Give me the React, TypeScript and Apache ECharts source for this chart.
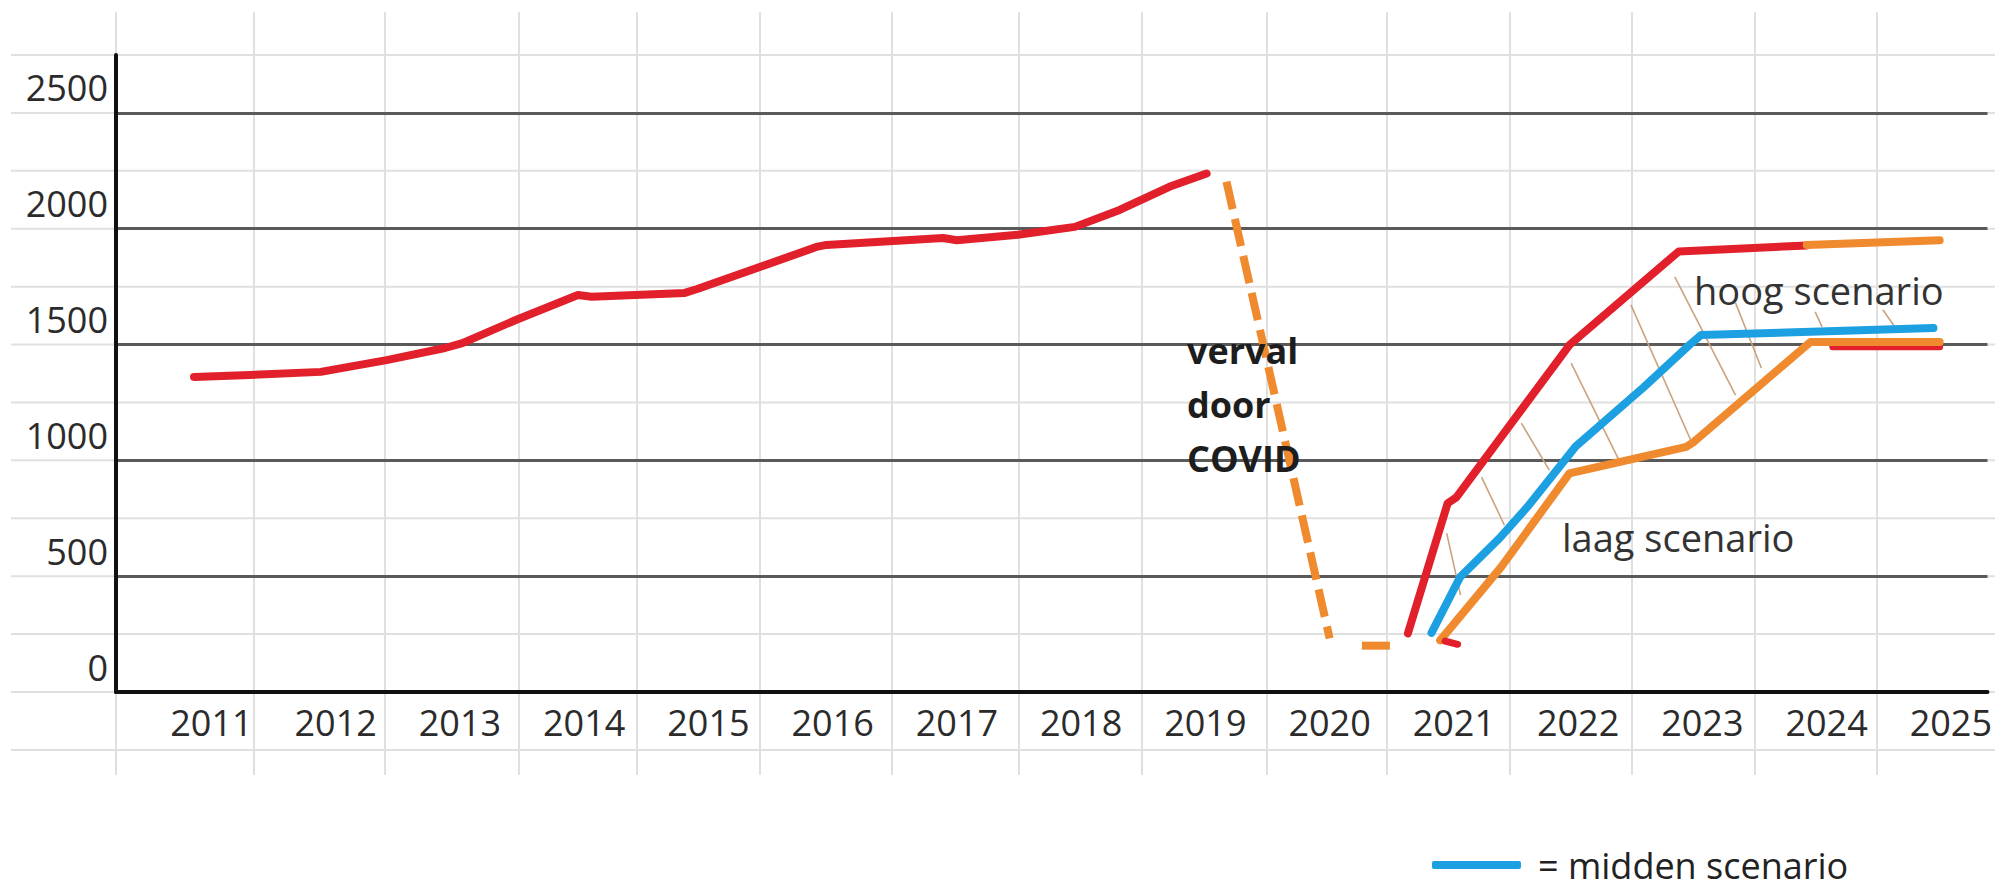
import React, { useEffect, useRef } from "react";
import * as echarts from "echarts";

// ---------- data ----------
const years = [2011, 2012, 2013, 2014, 2015, 2016, 2017, 2018, 2019, 2020, 2021, 2022, 2023, 2024, 2025];
const yTicks = [0, 500, 1000, 1500, 2000, 2500];

const historical = [
  [2010.86, 1360], [2011.31, 1369], [2011.88, 1382], [2012.41, 1433], [2012.88, 1485],
  [2013.02, 1506], [2013.45, 1606], [2013.95, 1714], [2014.06, 1706], [2014.81, 1723],
  [2014.91, 1740], [2015.88, 1923], [2015.95, 1930], [2016.89, 1960], [2017.0, 1950],
  [2017.49, 1974], [2017.95, 2008], [2018.31, 2081], [2018.71, 2181], [2019.01, 2238],
];
const covidDrop = [[2019.17, 2203], [2020.0, 232]];
const covidBottom = [[2020.26, 200], [2020.52, 200]];
const highScenario = [
  [2020.63, 253], [2020.95, 815], [2021.02, 840], [2021.93, 1498], [2022.81, 1902], [2023.84, 1928],
];
const highTail = [[2023.84, 1930], [2024.91, 1950]];
const lowUnder = [[2024.05, 1490], [2024.91, 1490]];
const lowScenario = [
  [2020.89, 223], [2021.38, 539], [2021.93, 944], [2022.87, 1058], [2022.93, 1079],
  [2023.87, 1511], [2024.91, 1511],
];
const midScenario = [
  [2020.82, 255], [2021.05, 496], [2021.37, 665], [2021.59, 798], [2021.98, 1060],
  [2022.53, 1317], [2022.9, 1500], [2022.99, 1541], [2024.86, 1571],
];
const startMark = [[2020.93, 220], [2021.03, 206]];
const hatches = [
  [2020.942, 686, 2021.054, 418],
  [2021.223, 928, 2021.407, 720],
  [2021.543, 1161, 2021.768, 958],
  [2021.944, 1420, 2022.329, 1001],
  [2022.425, 1671, 2022.906, 1088],
  [2022.778, 1792, 2023.267, 1282],
  [2023.267, 1680, 2023.475, 1399],
  [2023.908, 1641, 2023.964, 1576],
  [2024.453, 1650, 2024.566, 1563],
];

// ---------- layout ----------
const W = 1995;
const H = 890;
const GRID_LEFT = 116;
const GRID_TOP = 55;
const GRID_Y0 = 692;
const X_MIN = 2010.232;
const X_MAX = 2025.295;
const Y_MAX = 2750;
const sheetCols = [116, 254, 385, 519, 637, 760, 892, 1019, 1142, 1267, 1387, 1510, 1632, 1755, 1877];
const sheetRowValues = [-250, 0, 250, 500, 750, 1000, 1250, 1500, 1750, 2000, 2250, 2500, 2750];

const RED = "#e1202b";
const ORANGE = "#f08a2e";
const BLUE = "#1ca0e1";
const FONT = "'Open Sans', sans-serif";

export default function App() {
  const ref = useRef<HTMLDivElement>(null);

  useEffect(() => {
    if (!ref.current) return;
    const chart = echarts.init(ref.current, undefined, { renderer: "svg" });
    const pxPerUnit = (GRID_Y0 - GRID_TOP) / Y_MAX;
    const rowYs = sheetRowValues.map((v) => GRID_Y0 - v * pxPerUnit);

    const graphic: any[] = [];
    rowYs.forEach((y) =>
      graphic.push({
        type: "line",
        z: -1,
        silent: true,
        shape: { x1: 11, y1: y, x2: W, y2: y },
        style: { stroke: "#e0e0e0", lineWidth: 2 },
      })
    );
    sheetCols.forEach((x) =>
      graphic.push({
        type: "line",
        z: -1,
        silent: true,
        shape: { x1: x, y1: 12, x2: x, y2: 775 },
        style: { stroke: "#e0e0e0", lineWidth: 2 },
      })
    );
    graphic.push({
      type: "text",
      z: 10,
      x: 1187,
      y: 323,
      style: {
        text: "verval\ndoor\nCOVID",
        fontFamily: FONT,
        fontSize: 36,
        fontWeight: "bold",
        lineHeight: 54,
        fill: "#1d1d1d",
        align: "left",
        verticalAlign: "top",
      },
    });
    graphic.push({
      type: "text",
      z: 10,
      x: 1694,
      y: 290,
      style: {
        text: "hoog scenario",
        fontFamily: FONT,
        fontSize: 38,
        fill: "#333",
        align: "left",
        verticalAlign: "middle",
      },
    });
    graphic.push({
      type: "text",
      z: 10,
      x: 1562,
      y: 537,
      style: {
        text: "laag scenario",
        fontFamily: FONT,
        fontSize: 38,
        fill: "#333",
        align: "left",
        verticalAlign: "middle",
      },
    });

    const lineSeries = (name: string, data: number[][], color: string, width: number, extra: any = {}) => ({
      type: "line",
      name,
      data,
      symbol: "none",
      silent: true,
      itemStyle: { color },
      lineStyle: { color, width, cap: "round", join: "round", ...(extra.lineStyle || {}) },
      z: extra.z ?? 3,
    });

    chart.setOption({
      animation: false,
      backgroundColor: "#ffffff",
      grid: { left: GRID_LEFT, right: 0, top: GRID_TOP, bottom: H - GRID_Y0, containLabel: false },
      legend: {
        show: true,
        left: 1432,
        top: 847,
        padding: 0,
        itemWidth: 89,
        itemHeight: 8,
        icon: "roundRect",
        selectedMode: false,
        data: [{ name: "midden scenario" }],
        formatter: () => "= midden scenario",
        textStyle: { fontFamily: FONT, fontSize: 36, color: "#222", padding: [0, 0, 0, 12] },
      },
      xAxis: {
        type: "value",
        min: X_MIN,
        max: X_MAX,
        axisLine: { show: true, lineStyle: { color: "#111", width: 4 } },
        axisTick: { show: false },
        splitLine: { show: false },
        axisLabel: {
          customValues: years,
          formatter: (v: number) => String(v),
          margin: 12,
          fontFamily: FONT,
          fontSize: 36,
          color: "#2b2b2b",
        },
      },
      yAxis: {
        type: "value",
        min: 0,
        max: Y_MAX,
        interval: 500,
        axisLine: { show: true, lineStyle: { color: "#111", width: 4 } },
        axisTick: { show: false },
        splitLine: {
          show: true,
          showMinLine: false,
          showMaxLine: false,
          lineStyle: { color: "#5a5a5a", width: 3 },
        },
        axisLabel: {
          customValues: yTicks,
          formatter: (v: number) => String(v),
          margin: 8,
          fontFamily: FONT,
          fontSize: 36,
          color: "#2b2b2b",
          verticalAlign: "bottom",
          padding: [0, 0, 7, 0],
        },
      },
      graphic,
      series: [
        {
          type: "lines",
          coordinateSystem: "cartesian2d",
          silent: true,
          z: 1,
          data: hatches.map((h) => ({ coords: [[h[0], h[1]], [h[2], h[3]]] })),
          lineStyle: { color: "#c9a47e", width: 1.6, opacity: 1 },
        },
        lineSeries("historisch", historical, RED, 8),
        lineSeries("verval", covidDrop, ORANGE, 8, { lineStyle: { type: [28, 10], cap: "butt" } }),
        lineSeries("verval bodem", covidBottom, ORANGE, 8, { lineStyle: { type: [28, 10], cap: "butt" } }),
        lineSeries("laag onder", lowUnder, RED, 7, { z: 2 }),
        lineSeries("laag scenario", lowScenario, ORANGE, 8),
        lineSeries("hoog scenario", highScenario, RED, 8),
        lineSeries("hoog vervolg", highTail, ORANGE, 8),
        lineSeries("start", startMark, RED, 7),
        lineSeries("midden scenario", midScenario, BLUE, 8, { z: 4 }),
      ],
    });

    return () => chart.dispose();
  }, []);

  return (
    <div
      ref={ref}
      style={{ position: "absolute", left: 0, top: 0, width: W, height: H, background: "#fff" }}
    />
  );
}
